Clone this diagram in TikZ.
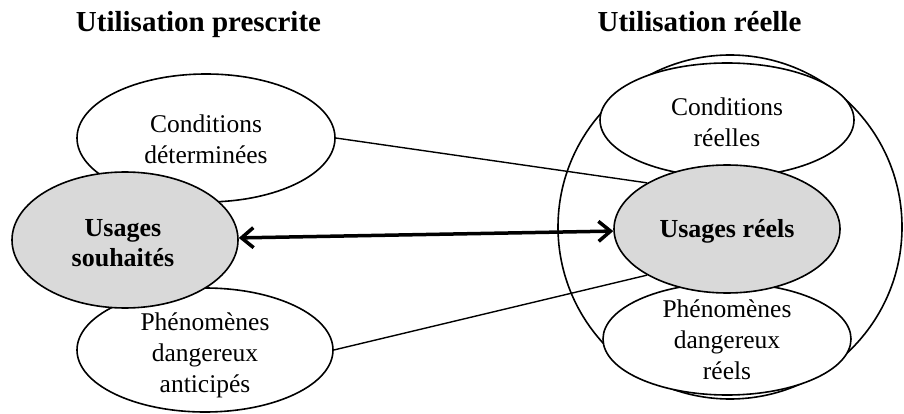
\documentclass[tikz,border=0pt]{standalone}
\usepackage{fontspec}
\setmainfont{Liberation Serif}
\usetikzlibrary{shapes.geometric,arrows.meta}
\definecolor{fillgray}{RGB}{217,217,217}
\begin{document}
\begin{tikzpicture}[x=1pt,y=-1pt,
  oval/.style={draw=black,line width=1.6pt,ellipse,inner sep=0pt},
  whiteoval/.style={oval,fill=white},
  grayoval/.style={oval,fill=fillgray},
  lbl/.style={align=center,font=\fontsize{25.5}{31}\selectfont,inner sep=0pt},
  blbl/.style={align=center,font=\fontsize{26}{30}\selectfont\bfseries,inner sep=0pt},
  ttl/.style={font=\fontsize{29}{34}\selectfont\bfseries,inner sep=0pt,anchor=base},
  link/.style={line width=1.4pt},
  twoway/.style={line width=3.5pt,{Straight Barb[length=12pt,width=20pt]}-{Straight Barb[length=12pt,width=20pt]}}
]
\useasboundingbox (0,0) rectangle (904,414);

% titles
\node[ttl] (t1) at (198.5,32) {Utilisation prescrite};
\node[ttl] (t2) at (699.5,32) {Utilisation réelle};

% left side white ellipses
\node[whiteoval,minimum width=258pt,minimum height=128pt] (cd) at (206,138) {};
\node[whiteoval,minimum width=256pt,minimum height=124pt] (pa) at (205,350) {};

% right side
\node[oval,circle,minimum size=344pt] (big) at (730,227) {};
\node[whiteoval,minimum width=254pt,minimum height=114pt] (cr) at (727,120) {};
\node[whiteoval,minimum width=248pt,minimum height=112pt] (pr) at (727,339) {};

% labels of white ellipses
\node[lbl] (cdt) at (206,139) {Conditions\\déterminées};
\node[lbl] (pat) at (205,355) {Phénomènes\\dangereux\\anticipés};
\node[lbl] (crt) at (727,122) {Conditions\\réelles};
\node[lbl] (prt) at (727,340) {Phénomènes\\dangereux\\réels};

% gray ellipses
\node[grayoval,minimum width=226pt,minimum height=136pt] (us) at (125,240) {};
\node[grayoval,minimum width=226pt,minimum height=128pt] (ur) at (727,229) {};
\node[blbl] (ust) at (123,243.4) {Usages\\souhaités};
\node[blbl] (urt) at (727,231) {Usages réels};

% connectors
\draw[link] (cd.east) -- (ur.150.6);
\draw[link] (pa.east) -- (ur.210);
\draw[twoway] (us) -- (ur);
\end{tikzpicture}
\end{document}
